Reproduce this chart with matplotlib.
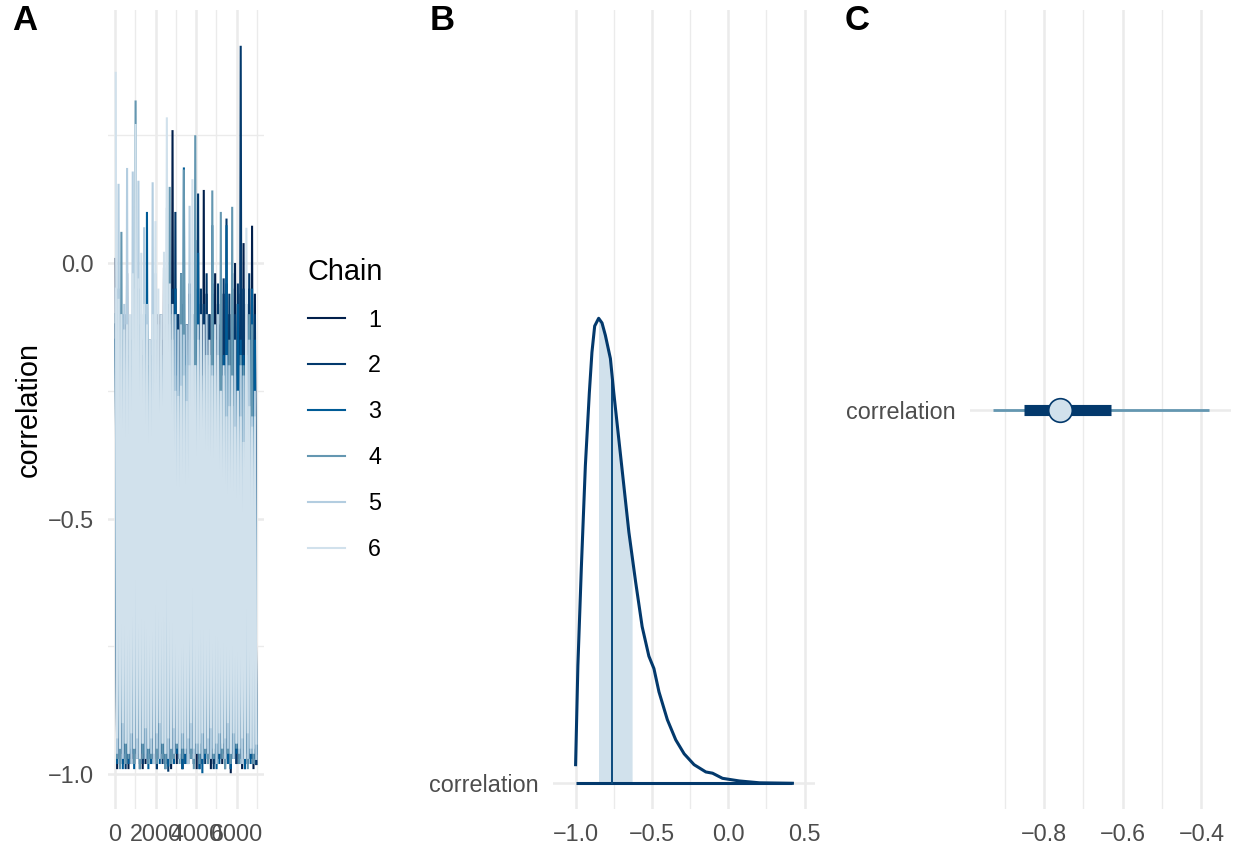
import matplotlib
matplotlib.use("Agg")
import matplotlib.pyplot as plt
from matplotlib.lines import Line2D
import numpy as np

plt.rcParams['font.family'] = ['Liberation Sans', 'DejaVu Sans']

# ---- data -------------------------------------------------------------
chains = ['1', '2', '3', '4', '5', '6']
chain_colors = ['#011f4b', '#03396c', '#005b96', '#6497b1', '#b3cde0', '#d1e1ec']
bin_size = 140  # iterations per bin (50 bins, 0..7000)

# per-bin highest / lowest draw of each chain
hi = {
    '1': [0.008, -0.10, -0.15, -0.12, -0.02, -0.18, -0.20, -0.15, -0.22, -0.18,
          -0.12, -0.20, -0.15, -0.22, -0.18, -0.10, -0.15, -0.009, -0.12, -0.08,
          0.26, -0.05, -0.10, -0.15, -0.08, -0.12, -0.06, -0.10, -0.15, -0.05,
          -0.08, 0.143, -0.06, -0.10, -0.04, -0.02, -0.08, -0.12, -0.06, -0.04,
          -0.10, -0.05, 0.0, -0.08, -0.06, 0.039, -0.10, -0.05, 0.073, -0.06],
    '2': [-0.12, -0.15, -0.20, -0.10, -0.18, -0.22, -0.15, -0.20, -0.12, -0.18,
          -0.22, -0.15, -0.20, -0.18, -0.15, -0.22, -0.10, -0.18, -0.15, -0.20,
          -0.05, 0.10, -0.10, -0.02, -0.08, -0.12, -0.04, -0.10, 0.045, 0.136,
          -0.05, -0.08, -0.02, -0.10, -0.06, -0.12, -0.04, -0.08, -0.03, 0.087,
          -0.06, -0.02, -0.10, -0.04, 0.425, -0.05, -0.08, -0.02, -0.06, -0.10],
    '3': [-0.15, -0.20, -0.10, -0.18, -0.22, -0.15, -0.20, -0.12, -0.25, -0.18,
          -0.10, 0.10, -0.20, -0.15, -0.22, -0.25, -0.18, -0.20, -0.15, -0.22,
          -0.18, -0.05, -0.20, -0.15, 0.187, -0.18, -0.22, -0.15, -0.05, 0.02,
          -0.20, -0.15, -0.22, -0.18, 0.074, -0.25, -0.20, -0.15, -0.18, 0.074,
          -0.22, -0.15, -0.20, -0.08, -0.15, -0.18, -0.20, -0.12, -0.05, -0.15],
    '4': [-0.10, -0.05, 0.061, -0.20, -0.15, -0.18, -0.10, 0.318, -0.05, -0.15,
          -0.20, -0.12, -0.18, -0.22, -0.15, -0.20, -0.25, -0.18, -0.15, 0.149,
          -0.10, -0.22, -0.25, -0.02, 0.183, -0.20, -0.15, -0.18, 0.25, -0.15,
          -0.22, -0.25, -0.18, -0.20, 0.142, -0.22, -0.18, 0.10, -0.25, -0.20,
          -0.15, 0.11, -0.22, -0.25, -0.18, -0.20, -0.15, -0.10, -0.12, -0.40],
    '5': [-0.05, 0.155, -0.10, -0.08, 0.186, -0.12, 0.179, -0.05, 0.161, -0.10,
          0.07, -0.08, -0.15, 0.158, -0.02, -0.12, -0.18, -0.10, 0.108, -0.12,
          -0.15, -0.10, -0.13, -0.12, -0.14, -0.12, 0.112, -0.15, -0.20, -0.12,
          -0.15, -0.22, -0.10, -0.18, -0.20, -0.15, -0.10, -0.25, -0.22, -0.18,
          -0.20, -0.28, -0.15, -0.25, -0.20, -0.22, -0.18, -0.15, -0.30, -0.25],
    '6': [0.372, -0.07, -0.10, -0.13, -0.12, -0.10, -0.02, 0.272, -0.03, 0.02,
          -0.08, -0.12, -0.15, -0.10, 0.082, -0.05, -0.10, 0.022, 0.285, -0.04,
          -0.08, -0.25, -0.26, -0.24, -0.22, -0.27, -0.20, 0.164, -0.20, -0.15,
          -0.10, -0.12, -0.18, -0.15, -0.22, -0.12, -0.18, -0.25, -0.20, -0.30,
          -0.28, -0.22, -0.32, -0.25, -0.30, -0.35, 0.069, -0.28, -0.32, -0.30],
}
lo = {
    '1': [-0.99, -0.97, -0.98, -0.96, -0.99, -0.97, -0.98, -0.96, -0.97, -0.99,
          -0.98, -0.96, -0.97, -0.98, -0.99, -0.97, -0.96, -0.98, -0.97, -0.99,
          -0.96, -0.98, -0.97, -0.99, -0.96, -0.98, -0.97, -0.96, -0.99, -0.97,
          -0.98, -0.96, -0.97, -0.99, -0.98, -0.96, -0.97, -0.98, -0.99, -0.97,
          -0.998, -0.96, -0.98, -0.97, -0.99, -0.96, -0.98, -0.97, -0.99, -0.98],
    '2': [-0.97, -0.98, -0.96, -0.99, -0.97, -0.98, -0.96, -0.97, -0.99, -0.98,
          -0.96, -0.97, -0.98, -0.96, -0.99, -0.97, -0.98, -0.96, -0.995, -0.97,
          -0.98, -0.96, -0.97, -0.99, -0.98, -0.96, -0.97, -0.98, -0.96, -0.99,
          -0.97, -0.98, -0.96, -0.97, -0.99, -0.98, -0.96, -0.97, -0.98, -0.96,
          -0.99, -0.97, -0.98, -0.96, -0.97, -0.99, -0.98, -0.96, -0.97, -0.98],
    '3': [-0.98, -0.96, -0.99, -0.97, -0.98, -0.96, -0.99, -0.97, -0.98, -0.96,
          -0.97, -0.99, -0.98, -0.96, -0.97, -0.98, -0.96, -0.99, -0.985, -0.97,
          -0.98, -0.96, -0.97, -0.99, -0.98, -0.96, -0.97, -0.98, -0.96, -0.99,
          -0.998, -0.97, -0.98, -0.96, -0.97, -0.99, -0.98, -0.96, -0.97, -0.98,
          -0.99, -0.97, -0.96, -0.98, -0.97, -0.99, -0.96, -0.98, -0.97, -0.96],
    '4': [-0.97, -0.99, -0.96, -0.98, -0.97, -0.95, -0.98, -0.96, -0.99, -0.97,
          -0.96, -0.98, -0.97, -0.95, -0.98, -0.96, -0.97, -0.99, -0.96, -0.98,
          -0.97, -0.95, -0.98, -0.97, -0.96, -0.98, -0.97, -0.99, -0.96, -0.98,
          -0.97, -0.96, -0.98, -0.95, -0.97, -0.98, -0.96, -0.97, -0.99, -0.96,
          -0.98, -0.97, -0.95, -0.98, -0.96, -0.97, -0.99, -0.96, -0.98, -0.97],
    '5': [-0.96, -0.95, -0.97, -0.94, -0.96, -0.98, -0.95, -0.97, -0.96, -0.94,
          -0.97, -0.95, -0.96, -0.98, -0.95, -0.97, -0.94, -0.96, -0.97, -0.95,
          -0.96, -0.94, -0.97, -0.95, -0.96, -0.98, -0.95, -0.97, -0.96, -0.94,
          -0.97, -0.95, -0.96, -0.97, -0.95, -0.98, -0.96, -0.94, -0.97, -0.95,
          -0.96, -0.97, -0.94, -0.96, -0.98, -0.95, -0.97, -0.96, -0.95, -0.97],
    '6': [-0.93, -0.95, -0.90, -0.94, -0.96, -0.92, -0.95, -0.93, -0.97, -0.94,
          -0.91, -0.95, -0.93, -0.96, -0.92, -0.90, -0.94, -0.96, -0.93, -0.95,
          -0.91, -0.94, -0.96, -0.92, -0.95, -0.93, -0.90, -0.95, -0.94, -0.96,
          -0.92, -0.95, -0.93, -0.91, -0.96, -0.94, -0.92, -0.95, -0.93, -0.90,
          -0.96, -0.92, -0.94, -0.95, -0.93, -0.97, -0.92, -0.95, -0.96, -0.94],
}

# density of the posterior (panel B)
dens_x = [-1.0, -0.985, -0.962, -0.936, -0.910, -0.893, -0.875, -0.849, -0.827, -0.805,
          -0.772, -0.750, -0.717, -0.684, -0.651, -0.607, -0.564, -0.520, -0.487, -0.454,
          -0.399, -0.344, -0.289, -0.224, -0.147, -0.103, -0.038, 0.072, 0.204, 0.42]
dens_y = [0.12, 0.76, 1.40, 2.05, 2.52, 2.78, 2.95, 3.00, 2.97, 2.89,
          2.74, 2.52, 2.22, 1.92, 1.62, 1.30, 1.01, 0.82, 0.74, 0.59,
          0.41, 0.28, 0.19, 0.12, 0.073, 0.065, 0.032, 0.015, 0.003, 0.0]

# interval summary (panel B and C)
param = 'correlation'
median = -0.76
inner = (-0.85, -0.63)
outer = (-0.93, -0.38)

# ---- figure -----------------------------------------------------------
W, H = 1235, 844
fig = plt.figure(figsize=(W / 100, H / 100), dpi=100)


def px_axes(x0, x1, y0, y1):
    return fig.add_axes([x0 / W, 1 - y1 / H, (x1 - x0) / W, (y1 - y0) / H])


grid_c = '#EBEBEB'
tick_c = '#4D4D4D'
fs_tick = 16.8
fs_title = 20.8


def style(ax):
    for s in ax.spines.values():
        s.set_visible(False)
    ax.tick_params(which='both', length=0, pad=10, labelsize=fs_tick, labelcolor=tick_c)
    ax.grid(which='major', color=grid_c, lw=1.8)
    ax.grid(which='minor', color=grid_c, lw=1.0)
    ax.set_axisbelow(True)


# A: trace plot
axA = px_axes(108, 264, 10, 809)
style(axA)
for c, col in zip(chains, chain_colors):
    xs, ys = [], []
    for i, (h, l) in enumerate(zip(hi[c], lo[c])):
        xs += [i * bin_size + 35, i * bin_size + 105]
        ys += [h, l]
    axA.plot(xs, ys, color=col, lw=1.5, solid_joinstyle='miter')
axA.set_xlim(-345, 7343)
axA.set_ylim(-1.068, 0.495)
axA.set_xticks([0, 2000, 4000, 6000])
axA.set_xticks([1000, 3000, 5000, 7000], minor=True)
axA.set_yticks([0.0, -0.5, -1.0])
axA.set_yticklabels(['0.0', '\u22120.5', '\u22121.0'])
axA.set_yticks([0.25, -0.25, -0.75], minor=True)
axA.tick_params(which='minor', labelleft=False, labelbottom=False)
fig.text(29 / W, 1 - 409.5 / H, 'correlation', rotation=90, ha='center', va='center',
         fontsize=fs_title)

handles = [Line2D([0], [0], color=col, lw=1.5) for col in chain_colors]
leg = fig.legend(handles, chains, title='Chain', loc='upper left',
                 bbox_to_anchor=(296 / W, 1 - 246 / H), frameon=False, borderpad=0,
                 fontsize=fs_tick, title_fontsize=fs_title, handlelength=1.6,
                 handletextpad=1.0, labelspacing=0.98)
leg._legend_box.align = 'left'

# B: areas plot
axB = px_axes(553, 815, 10, 809)
style(axB)
axB.plot([dens_x[0], dens_x[-1]], [0, 0], color='#03396c', lw=2.2, solid_capstyle='butt')
fx = np.linspace(inner[0], inner[1], 60)
axB.fill_between(fx, 0, np.interp(fx, dens_x, dens_y), color='#d1e1ec', lw=0)
axB.plot([median, median], [0, np.interp(median, dens_x, dens_y)], color='#0b4a7d', lw=1.4)
axB.plot(dens_x, dens_y, color='#03396c', lw=2.2)
axB.set_xlim(-1.148, 0.568)
axB.set_ylim(-0.166, 4.989)
axB.set_xticks([-1.0, -0.5, 0.0, 0.5])
axB.set_xticklabels(['\u22121.0', '\u22120.5', '0.0', '0.5'])
axB.set_xticks([-0.75, -0.25, 0.25], minor=True)
axB.set_yticks([0])
axB.set_yticklabels([param])
axB.tick_params(which='minor', labelbottom=False)

# C: intervals plot
axC = px_axes(970, 1231, 10, 809)
style(axC)
axC.plot(outer, [1, 1], color='#6497b1', lw=2.0, solid_capstyle='butt')
axC.plot(inner, [1, 1], color='#03396c', lw=8.0, solid_capstyle='butt')
axC.plot([median], [1], 'o', ms=17, mfc='#d1e1ec', mec='#03396c', mew=1.2)
axC.set_xlim(-0.988, -0.325)
axC.set_ylim(0.5, 1.5)
axC.set_xticks([-0.8, -0.6, -0.4])
axC.set_xticklabels(['\u22120.8', '\u22120.6', '\u22120.4'])
axC.set_xticks([-0.9, -0.7, -0.5], minor=True)
axC.set_yticks([1])
axC.set_yticklabels([param])
axC.tick_params(which='minor', labelbottom=False)

# panel tags
for tag, x in [('A', 12), ('B', 430), ('C', 845)]:
    fig.text(x / W, 1 - 4 / H, tag, fontsize=25, fontweight='bold', ha='left', va='top')

fig.savefig('out.png', dpi=100)
